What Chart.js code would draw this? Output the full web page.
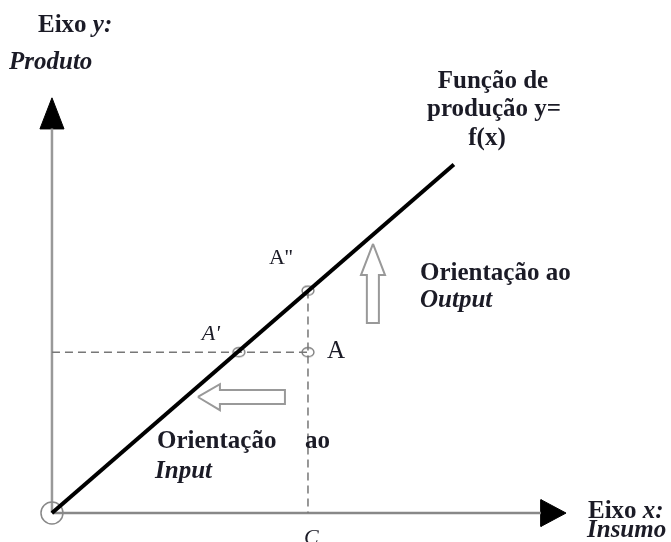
<!DOCTYPE html>
<html><head><meta charset="utf-8">
<script src="https://cdn.jsdelivr.net/npm/chart.js@4"></script>
<style>html,body{margin:0;padding:0;background:#fff}#wrap{width:671px;height:542px}</style>
</head><body><div id="wrap"><canvas id="c" width="671" height="542"></canvas></div>
<script>
// ---- data (diagram units: x = insumo, y = produto) ----
const frontierX = [0, 15.7];
const frontierY = [0, 13.0];
const dmuNames = ["A", "A'", "A''"];
const dmuX = [10, 7.3, 10];
const dmuY = [6, 6, 8.3];
const cLabel = "C";
const cLabelX = 10;
const axisXEnd = 19.1;
const axisYEnd = 14.35;
const xHeadX = [20.08, 19.1, 19.1, 20.08];
const xHeadY = [0, 0.5, -0.5, 0];
const yHeadX = [0, -0.47, 0.47, 0];
const yHeadY = [15.49, 14.33, 14.33, 15.49];
const arrowUpX = [12.54, 13.01, 12.77, 12.77, 12.30, 12.30, 12.07, 12.54];
const arrowUpY = [10.04, 8.88, 8.88, 7.09, 7.09, 8.88, 8.88, 10.04];
const arrowLeftX = [5.70, 6.56, 6.56, 9.10, 9.10, 6.56, 6.56, 5.70];
const arrowLeftY = [4.33, 4.81, 4.59, 4.59, 4.07, 4.07, 3.84, 4.33];

const pts = (xs, ys) => xs.map((x, i) => ({x, y: ys[i]}));

// ellipse marker
const ell = document.createElement('canvas');
ell.width = 16; ell.height = 12;
(function(){const g = ell.getContext('2d'); g.strokeStyle = '#777'; g.lineWidth = 1.3;
 g.beginPath(); g.ellipse(8, 6, 6, 4.5, 0, 0, Math.PI*2); g.stroke();})();

const SERIF = '"Liberation Serif", "DejaVu Serif", serif';
const INK = '#1b1b26';
// text layout (pixels)
const texts = [
  {parts: [["Eixo ", "bold"], ["y:", "italic bold"]], x: 38, y: 32},
  {parts: [["Produto", "italic bold"]], x: 9, y: 69},
  {parts: [["Função de", "bold"]], x: 493, y: 88, align: 'center'},
  {parts: [["produção y=", "bold"]], x: 494, y: 116, align: 'center'},
  {parts: [["f(x)", "bold"]], x: 487, y: 145, align: 'center'},
  {parts: [["Orientação ao", "bold"]], x: 420, y: 280},
  {parts: [["Output", "italic bold"]], x: 420, y: 307},
  {parts: [["Orientação", "bold"]], x: 157, y: 448},
  {parts: [["ao", "bold"]], x: 305, y: 448},
  {parts: [["Input", "italic bold"]], x: 155, y: 478},
  {parts: [["Eixo ", "bold"], ["x:", "italic bold"]], x: 588, y: 518},
  {parts: [["Insumo", "italic bold"]], x: 587, y: 537}
];
const FS = 25;
// point label offsets (pixels) and styles
const dmuLabelStyle = [
  {dx: 19, dy: 6, font: 'normal', size: 25},
  {dx: -37, dy: -12, font: 'italic', size: 22},
  {dx: -39, dy: -27, font: 'normal', size: 22}
];

const textPlugin = {
  id: 'texts',
  afterDatasetsDraw(chart) {
    const ctx = chart.ctx, xs = chart.scales.x, ys = chart.scales.y;
    ctx.save();
    ctx.fillStyle = INK;
    ctx.textBaseline = 'alphabetic';
    texts.forEach(t => {
      let total = 0;
      t.parts.forEach(p => { ctx.font = p[1] + ' ' + FS + 'px ' + SERIF; total += ctx.measureText(p[0]).width; });
      let x = t.align === 'center' ? t.x - total / 2 : t.x;
      t.parts.forEach(p => { ctx.font = p[1] + ' ' + FS + 'px ' + SERIF; ctx.textAlign = 'left'; ctx.fillText(p[0], x, t.y); x += ctx.measureText(p[0]).width; });
    });
    dmuNames.forEach((n, i) => {
      const s = dmuLabelStyle[i];
      ctx.font = s.font + ' ' + s.size + 'px ' + SERIF;
      ctx.textAlign = 'left';
      ctx.fillText(n, xs.getPixelForValue(dmuX[i]) + s.dx, ys.getPixelForValue(dmuY[i]) + s.dy);
    });
    ctx.font = 'italic 22px ' + SERIF;
    ctx.fillText(cLabel, xs.getPixelForValue(cLabelX) - 4, ys.getPixelForValue(0) + 31);
    ctx.restore();
  }
};

const base = {showLine: true, pointRadius: 0, pointHoverRadius: 0, clip: false, fill: false, tension: 0};
new Chart(document.getElementById('c'), {
  type: 'scatter',
  data: {datasets: [
    Object.assign({}, base, {label: 'f(x)', data: pts(frontierX, frontierY), borderColor: '#000', borderWidth: 4}),
    Object.assign({}, base, {label: 'dmu', data: pts(dmuX, dmuY), showLine: false, pointStyle: ell, pointRadius: 6}),
    Object.assign({}, base, {label: 'origin', data: [{x: 0, y: 0}], showLine: false, pointStyle: 'circle', pointRadius: 11, borderColor: '#888', borderWidth: 1.5, backgroundColor: 'rgba(0,0,0,0)'}),
    Object.assign({}, base, {label: 'hdash', data: [{x: 0, y: dmuY[0]}, {x: dmuX[0], y: dmuY[0]}], borderColor: '#777', borderWidth: 1.5, borderDash: [8, 5]}),
    Object.assign({}, base, {label: 'vdash', data: [{x: dmuX[2], y: dmuY[2]}, {x: dmuX[0], y: 0}], borderColor: '#777', borderWidth: 1.5, borderDash: [8, 5]}),
    Object.assign({}, base, {label: 'upArrow', data: pts(arrowUpX, arrowUpY), borderColor: '#999', borderWidth: 2}),
    Object.assign({}, base, {label: 'leftArrow', data: pts(arrowLeftX, arrowLeftY), borderColor: '#999', borderWidth: 2}),
    Object.assign({}, base, {label: 'xAxis', data: [{x: 0, y: 0}, {x: axisXEnd, y: 0}], borderColor: '#888', borderWidth: 2.5}),
    Object.assign({}, base, {label: 'yAxis', data: [{x: 0, y: 0}, {x: 0, y: axisYEnd}], borderColor: '#999', borderWidth: 2.5}),
    Object.assign({}, base, {label: 'xHead', data: pts(xHeadX, xHeadY), borderColor: '#000', borderWidth: 1, fill: 'shape', backgroundColor: '#000'}),
    Object.assign({}, base, {label: 'yHead', data: pts(yHeadX, yHeadY), borderColor: '#000', borderWidth: 1, fill: 'shape', backgroundColor: '#000'})
  ]},
  options: {
    responsive: false, animation: false,
    layout: {padding: 0, autoPadding: false},
    plugins: {legend: {display: false}, tooltip: {enabled: false}},
    scales: {
      x: {type: 'linear', display: false, min: -2.03, max: 24.18},
      y: {type: 'linear', display: false, min: -1.08, max: 19.14}
    }
  },
  plugins: [textPlugin]
});
</script></body></html>
